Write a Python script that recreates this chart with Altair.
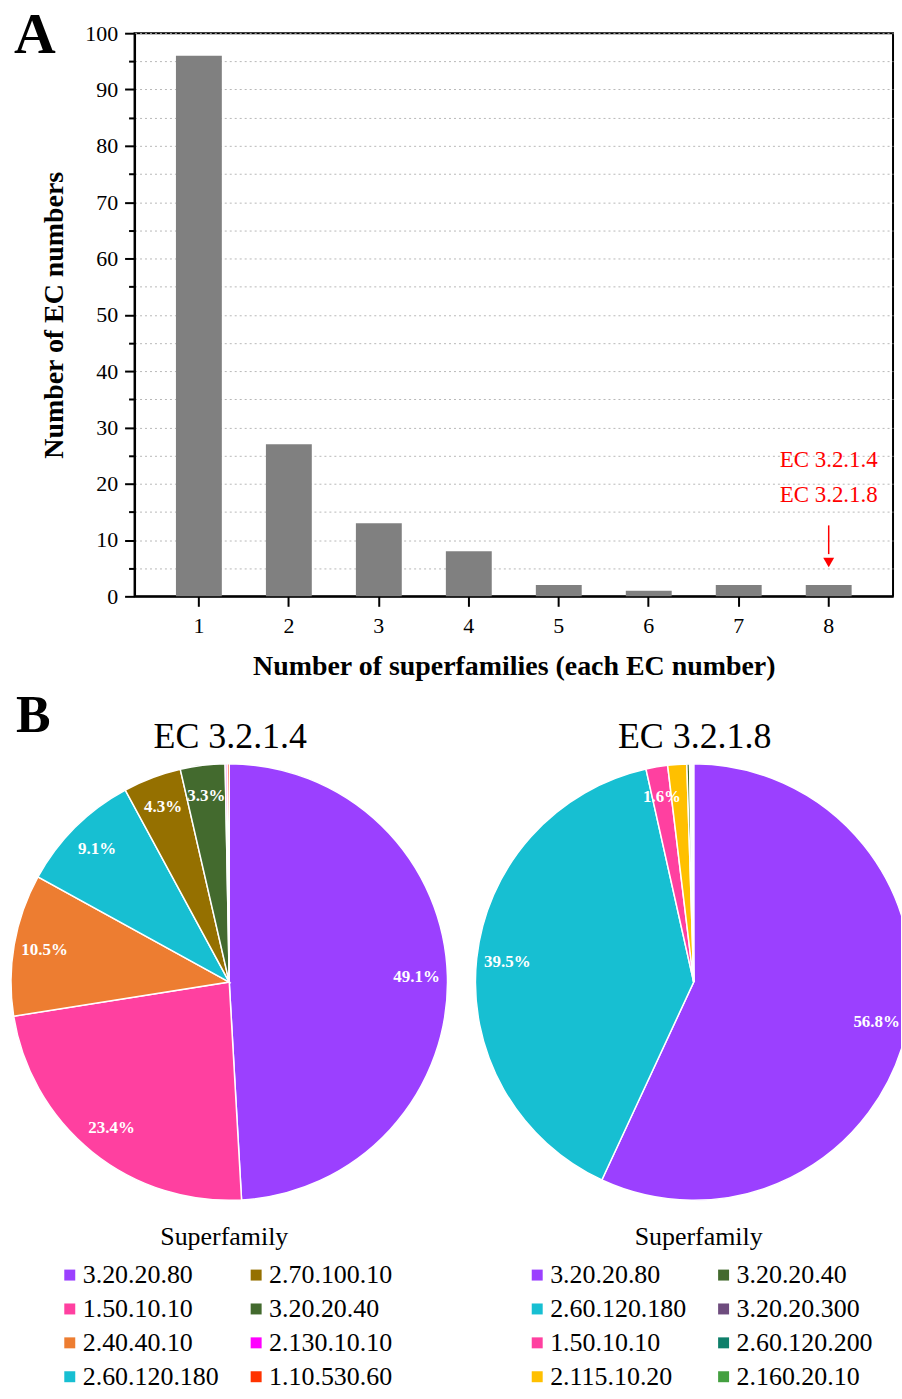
import altair as alt
import pandas as pd

FONT = "Liberation Serif"

# ---------------- Panel A data ----------------
superfamily_counts = ["1", "2", "3", "4", "5", "6", "7", "8"]
ec_numbers = [96, 27, 13, 8, 2, 1, 2, 2]

annotation_labels = ["EC 3.2.1.4", "EC 3.2.1.8"]
annotation_category = "8"

# ---------------- Panel B data ----------------
sf_ec3214 = ["3.20.20.80", "1.50.10.10", "2.40.40.10", "2.60.120.180",
             "2.70.100.10", "3.20.20.40", "2.130.10.10", "1.10.530.60"]
pct_ec3214 = [49.1, 23.4, 10.5, 9.1, 4.3, 3.3, 0.15, 0.15]
col_ec3214 = ["#9B40FF", "#FF40A0", "#ED7D31", "#17BFD2",
              "#957000", "#436A2E", "#FF00FF", "#FF3300"]

sf_ec3218 = ["3.20.20.80", "2.60.120.180", "1.50.10.10", "2.115.10.20",
             "3.20.20.40", "3.20.20.300", "2.60.120.200", "2.160.20.10"]
pct_ec3218 = [56.8, 39.5, 1.6, 1.4, 0.2, 0.1, 0.1, 0.1]
col_ec3218 = ["#9B40FF", "#17BFD2", "#FF40A0", "#FFC000",
              "#436A2E", "#6E4C7E", "#0E7F6A", "#44A040"]

# ---------------- Panel A chart ----------------
bar_df = pd.DataFrame({"n": superfamily_counts, "count": ec_numbers})
ann_df = pd.DataFrame({"n": [annotation_category] * 2,
                       "label": annotation_labels,
                       "count": [24.2, 18.0]})
arrow_df = pd.DataFrame({"n": [annotation_category], "count": [12.6], "count2": [7.5], "head": [6.0]})

xscale = alt.Scale(domain=superfamily_counts, paddingInner=0.49, paddingOuter=0.46)
yscale = alt.Scale(domain=[0, 100], nice=False)

bars = alt.Chart(bar_df).mark_bar(color="#808080").encode(
    x=alt.X("n:O", scale=xscale, axis=alt.Axis(
        title="Number of superfamilies (each EC number)", labelAngle=0,
        labelFont=FONT, labelFontSize=22, labelColor="black", labelPadding=9,
        titleFont=FONT, titleFontSize=28, titleFontWeight="bold", titleColor="black",
        titlePadding=16, tickSize=10, tickWidth=2, tickColor="black",
        domainColor="black", domainWidth=2)),
    y=alt.Y("count:Q", scale=yscale, axis=alt.Axis(
        orient="left", values=list(range(0, 101, 10)),
        title="Number of EC numbers",
        labelFont=FONT, labelFontSize=22, labelColor="black", labelPadding=7,
        titleFont=FONT, titleFontSize=28, titleFontWeight="bold", titleColor="black",
        titlePadding=16, tickSize=10, tickWidth=2, tickColor="black",
        domainColor="black", domainWidth=2,
        grid=True, gridColor="#b8b8b8", gridDash=[2, 3], gridWidth=1)),
)

minor = alt.Chart(bar_df).mark_point(opacity=0).encode(
    x=alt.X("n:O", scale=xscale),
    y=alt.Y("count:Q", scale=yscale, axis=alt.Axis(
        orient="left", values=list(range(5, 100, 10)), labels=False, title=None,
        tickSize=6, tickWidth=2, tickColor="black", domain=False,
        grid=True, gridColor="#b8b8b8", gridDash=[2, 3], gridWidth=1)),
)

ann_text = alt.Chart(ann_df).mark_text(font=FONT, fontSize=23, color="#FF0000").encode(
    x=alt.X("n:O", scale=xscale),
    y=alt.Y("count:Q", scale=yscale, axis=None),
    text="label:N",
)

arrow_line = alt.Chart(arrow_df).mark_rule(color="#FF0000", strokeWidth=1.5).encode(
    x=alt.X("n:O", scale=xscale),
    y=alt.Y("count:Q", scale=yscale, axis=None),
    y2="count2:Q",
)
arrow_head = alt.Chart(arrow_df).mark_point(shape="triangle-down", filled=True, color="#FF0000",
                                            size=120, opacity=1).encode(
    x=alt.X("n:O", scale=xscale),
    y=alt.Y("head:Q", scale=yscale, axis=None),
)

label_a = alt.Chart(pd.DataFrame({"t": ["A"]})).mark_text(
    font=FONT, fontSize=58, fontWeight="bold", color="black", align="left", baseline="alphabetic"
).encode(text="t:N", x=alt.value(-121), y=alt.value(20))

panel_a = alt.layer(bars, minor, ann_text, arrow_line, arrow_head, label_a).resolve_axis(
    y="independent"
).properties(width=761, height=565, view=alt.ViewBackground(stroke="black", strokeWidth=2))


# ---------------- Panel B charts ----------------
def pie(sfs, pcts, cols, title, width, cx, legend_x, clip, extra=None):
    df = pd.DataFrame({
        "sf": sfs,
        "pct": pcts,
        "idx": list(range(len(sfs))),
        "label": [f"{p}%" if p >= 1.5 else "" for p in pcts],
    })
    color = alt.Color("sf:N", scale=alt.Scale(domain=sfs, range=cols),
                      legend=alt.Legend(
                          title="Superfamily", orient="none", legendX=legend_x, legendY=463,
                          columns=2, columnPadding=24, rowPadding=8,
                          titleFont=FONT, titleFontSize=26, titleFontWeight="normal", titleColor="black",
                          titleAnchor="middle", titlePadding=12,
                          labelFont=FONT, labelFontSize=26, labelColor="black", labelOffset=0,
                          symbolType="square", symbolSize=121, symbolStrokeWidth=0))
    base = alt.Chart(df).encode(
        theta=alt.Theta("pct:Q", stack=True),
        order=alt.Order("idx:Q"),
    )
    arc = base.mark_arc(outerRadius=219, stroke="white", strokeWidth=1.5, clip=clip).encode(
        color=color, x=alt.value(cx), y=alt.value(220))
    txt = base.mark_text(radius=188, font=FONT, fontSize=17, fontWeight="bold", color="white").encode(
        text="label:N", x=alt.value(cx), y=alt.value(220))
    ttl = alt.Chart(pd.DataFrame({"t": [title]})).mark_text(
        font=FONT, fontSize=36, color="black", align="center", baseline="alphabetic"
    ).encode(text="t:N", x=alt.value(cx + 1), y=alt.value(-15))
    layers = [arc, txt, ttl]
    if extra is not None:
        layers.append(extra)
    return alt.layer(*layers).properties(width=width, height=440)


# left pie: its view starts where panel A's plot starts; the pie is drawn left of it
label_b = alt.Chart(pd.DataFrame({"t": ["B"]})).mark_text(
    font=FONT, fontSize=52, fontWeight="bold", color="black", align="left", baseline="alphabetic"
).encode(text="t:N", x=alt.value(-119), y=alt.value(-31))

pie1 = pie(sf_ec3214, pct_ec3214, col_ec3214, "EC 3.2.1.4", 300, 95, -78, False, extra=label_b)
pie2 = pie(sf_ec3218, pct_ec3218, col_ec3218, "EC 3.2.1.8", 428, 220, 50, True)

panel_b = alt.hconcat(pie1, pie2, spacing=22).resolve_scale(color="independent", theta="independent")

chart = alt.vconcat(panel_a, panel_b, spacing=8).properties(
    padding={"left": 7, "top": 4, "right": 0, "bottom": 0}, background="white"
).configure_view(stroke="transparent")

chart.save("out.html", embed_options={"renderer": "svg", "actions": False})
